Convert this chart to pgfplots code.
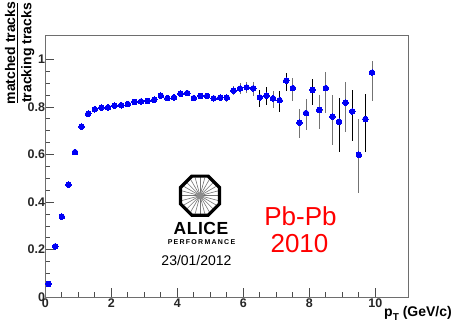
\documentclass[border=0pt]{standalone}
\usepackage{fontspec}
\setmainfont{Liberation Sans}
\usepackage{pgfplots}
\usepackage{pgfplotstable}
\pgfplotsset{compat=1.18}
\definecolor{rootblue}{RGB}{0,0,245}
\definecolor{axisgray}{RGB}{110,110,110}
\pgfplotstableread{
x y ep em
0.1 0.056 0.002 0.002
0.3 0.214 0.002 0.002
0.5 0.339 0.002 0.002
0.7 0.473 0.002 0.002
0.9 0.610 0.003 0.003
1.1 0.717 0.003 0.003
1.3 0.771 0.003 0.003
1.5 0.790 0.004 0.004
1.7 0.797 0.004 0.004
1.9 0.798 0.004 0.004
2.1 0.805 0.005 0.005
2.3 0.807 0.005 0.005
2.5 0.812 0.005 0.005
2.7 0.821 0.006 0.006
2.9 0.823 0.006 0.006
3.1 0.825 0.007 0.007
3.3 0.830 0.007 0.007
3.5 0.847 0.008 0.008
3.7 0.837 0.008 0.008
3.9 0.840 0.009 0.009
4.1 0.855 0.009 0.009
4.3 0.858 0.010 0.010
4.5 0.837 0.011 0.011
4.7 0.846 0.012 0.012
4.9 0.846 0.013 0.013
5.1 0.836 0.014 0.014
5.3 0.839 0.015 0.015
5.5 0.839 0.017 0.017
5.7 0.868 0.020 0.020
5.9 0.877 0.022 0.024
6.1 0.882 0.021 0.025
6.3 0.878 0.025 0.031
6.9 0.836 0.032 0.041
7.5 0.879 0.041 0.053
7.7 0.734 0.059 0.066
7.9 0.774 0.057 0.070
8.3 0.787 0.063 0.080
8.5 0.879 0.066 0.106
8.7 0.759 0.091 0.119
9.1 0.818 0.085 0.122
9.5 0.599 0.148 0.162
9.9 0.944 0.048 0.118
}\graytable
\pgfplotstableread{
x y ep em
6.5 0.840 0.032 0.039
6.7 0.847 0.035 0.039
7.1 0.828 0.039 0.048
7.3 0.910 0.031 0.043
8.1 0.871 0.048 0.063
8.9 0.738 0.101 0.126
9.3 0.781 0.092 0.123
9.7 0.749 0.104 0.137
}\blacktable
\begin{document}
\begin{tikzpicture}[x=1pt,y=1pt]
\path[use as bounding box] (0,0) rectangle (457,331);
\begin{axis}[
  at={(45.3pt,33.7pt)}, anchor=south west,
  scale only axis, width=363pt, height=262.3pt,
  xmin=0, xmax=11, ymin=0, ymax=1.102,
  xtick={0,2,4,6,8,10}, ytick={0,0.2,0.4,0.6,0.8,1},
  yticklabels={0,0.2,0.4,0.6,0.8,1},
  minor x tick num=3, minor y tick num=3,
  axis line style={draw=axisgray,line width=0.9pt},
  tick align=inside, tick pos=left,
  x tick style={black!70,line width=0.7pt},
  y tick style={black!70,line width=0.7pt},
  major tick length=9pt, minor tick length=5pt,
  xticklabel style={font=\fontsize{12.5}{13}\selectfont\bfseries,text=black!85,yshift=0pt,inner sep=1pt},
  yticklabel style={font=\fontsize{12.5}{13}\selectfont\bfseries,text=black!85,xshift=1pt,inner sep=1pt},
  /pgf/number format/assume math mode=true,
  clip=false,
]
\addplot[only marks, mark=*, mark size=2.8pt, mark options={draw=rootblue,fill=rootblue,line width=0pt}, error bars/.cd, y dir=both, y explicit, x dir=both, x fixed=0.1,
   error mark=none, error bar style={black!55,line width=0.7pt}]
  table[x=x,y=y,y error plus=ep,y error minus=em]{\graytable};
\addplot[only marks, mark=*, mark size=2.8pt, mark options={draw=rootblue,fill=rootblue,line width=0pt}, error bars/.cd, y dir=both, y explicit, x dir=both, x fixed=0.1,
   error mark=none, error bar style={black,line width=0.9pt}]
  table[x=x,y=y,y error plus=ep,y error minus=em]{\blacktable};
\end{axis}
% y label (fraction)
\node[rotate=90,anchor=south,inner sep=0pt,font=\fontsize{14}{14}\selectfont\bfseries] at (15.5,278) {matched tracks};
\draw[line width=0.8pt] (17.2,228) -- (17.2,328);
\node[rotate=90,anchor=north,inner sep=0pt,font=\fontsize{14}{14}\selectfont\bfseries] at (21,278) {tracking tracks};
% x label
\node[anchor=base west,inner sep=0pt,font=\fontsize{14}{14}\selectfont\bfseries] at (384,14) {p\raisebox{-3.5pt}{\fontsize{10}{10}\selectfont T} (GeV/c)};
% logo
\begin{scope}[shift={(200,135.3)}]
  \foreach \a in {0,15,...,345}{\draw[black!55,line width=0.6pt] (0,0) -- (\a:18.5);}
  \fill[black!45] (0,0) circle (3.5);
  \draw[black,line width=3.2pt] (22.5:21.2) -- (67.5:21.2) -- (112.5:21.2) -- (157.5:21.2) -- (202.5:21.2) -- (247.5:21.2) -- (292.5:21.2) -- (337.5:21.2) -- cycle;
\end{scope}
\node[anchor=base,inner sep=0pt,font=\fontsize{17.5}{18}\selectfont\bfseries] at (201,96) {\addfontfeatures{LetterSpace=3}ALICE};
\node[anchor=base,inner sep=0pt,font=\fontsize{7}{7}\selectfont\bfseries] at (201.5,86) {\addfontfeatures{LetterSpace=18}PERFORMANCE};
\node[anchor=base,inner sep=0pt,font=\fontsize{14}{14}\selectfont] at (196.5,65) {23/01/2012};
% Pb-Pb
\node[anchor=base,inner sep=0pt,text=red,font=\fontsize{26}{26}\selectfont] at (300.5,105) {Pb-Pb};
\node[anchor=base,inner sep=0pt,text=red,font=\fontsize{26}{26}\selectfont] at (299.5,78) {2010};
\end{tikzpicture}
\end{document}
